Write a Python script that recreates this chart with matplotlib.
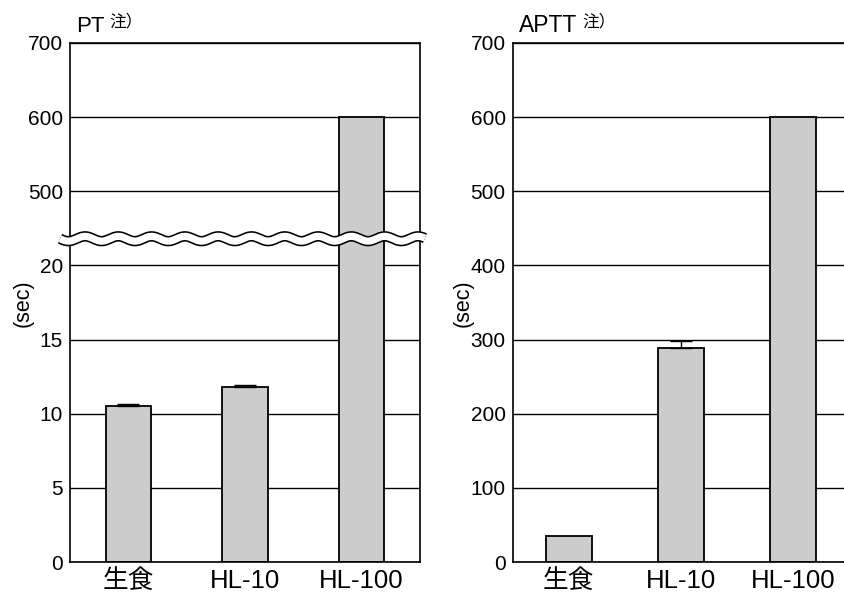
#!/usr/bin/env python
import matplotlib.pyplot as plt
import numpy as np
from matplotlib.lines import Line2D

plt.rcParams['font.family'] = ['Liberation Sans', 'Noto Sans CJK JP', 'DejaVu Sans']

groups = ['生食', 'HL-10', 'HL-100']
pt_values = [10.5, 11.8, 600]
pt_err = [0.18, 0.17, 0]
aptt_values = [35, 288, 600]
aptt_err = [0, 10, 0]

W, H = 845, 593
BAR_COLOR = '#cccccc'


def style_axes(ax):
    ax.set_xlim(-0.5, 2.5)
    ax.set_axisbelow(True)
    ax.yaxis.grid(True, color='black', linewidth=1.0)
    ax.tick_params(axis='both', length=0)
    ax.tick_params(axis='y', labelsize=15, pad=5)
    ax.tick_params(axis='x', labelsize=18.5, pad=5)
    for s in ax.spines.values():
        s.set_linewidth(1.2)


def draw_bars(ax, values, err, width):
    x = np.arange(len(values))
    ax.bar(x, values, width=width, color=BAR_COLOR, edgecolor='black',
           linewidth=1.3, zorder=2)
    e = np.array(err)
    has = e > 0
    ax.errorbar(x[has], np.array(values)[has],
                yerr=[np.zeros(has.sum()), e[has]], fmt='none',
                ecolor='black', elinewidth=1.0, capsize=8, capthick=1.0,
                zorder=3)


def main():
    fig = plt.figure(figsize=(W / 100, H / 100), dpi=100)

    step = (562 - 43) / 7 / H
    bottom = 1 - 562 / H
    brk = 4.36  # break position in tick steps

    # ---- PT (broken axis) ----
    lx, lw = 70 / W, 350 / W
    ax_lo = fig.add_axes([lx, bottom, lw, brk * step])
    ax_hi = fig.add_axes([lx, bottom + brk * step, lw, (7 - brk) * step])
    for ax in (ax_lo, ax_hi):
        draw_bars(ax, pt_values, pt_err, 0.386)
        style_axes(ax)
    ax_lo.set_ylim(0, 5 * brk)
    ax_lo.set_yticks([0, 5, 10, 15, 20])
    ax_lo.spines['top'].set_visible(False)
    ax_lo.set_xticks(range(3), groups)
    ax_hi.set_ylim(500 - 100 * (5 - brk), 700)
    ax_hi.set_yticks([500, 600, 700])
    ax_hi.spines['bottom'].set_visible(False)
    ax_hi.set_xticks([])

    # wavy break mark
    yb = 1 - (bottom + brk * step)
    xs = np.linspace(60, 425, 600)
    ys = yb * H + 2.4 * np.sin(2 * np.pi * (xs - 60) / 33.3)
    for c, lwid in (('black', 7.5), ('white', 5.2)):
        fig.add_artist(Line2D(xs / W, 1 - ys / H, color=c, linewidth=lwid,
                              transform=fig.transFigure, zorder=10,
                              solid_capstyle='butt'))

    # ---- APTT ----
    rx = 512.7 / W
    ax_r = fig.add_axes([rx, bottom, 336.5 / W, 7 * step])
    draw_bars(ax_r, aptt_values, aptt_err, 0.41)
    style_axes(ax_r)
    ax_r.set_ylim(0, 700)
    ax_r.set_yticks(range(0, 701, 100))
    ax_r.set_xticks(range(3), groups)

    # titles and labels
    fig.text(76 / W, 1 - 32.5 / H, 'PT', fontsize=16, va='baseline')
    fig.text(109 / W, 1 - 26 / H, '注）', fontsize=12, va='baseline')
    fig.text(519 / W, 1 - 32.5 / H, 'APTT', fontsize=16.5, va='baseline')
    fig.text(582 / W, 1 - 26 / H, '注）', fontsize=12, va='baseline')
    fig.text(23 / W, 1 - 303 / H, '(sec)', fontsize=15.5, rotation=90,
             ha='center', va='center')
    fig.text(463 / W, 1 - 303 / H, '(sec)', fontsize=15.5, rotation=90,
             ha='center', va='center')

    fig.savefig('out.png', dpi=100)
    return 0


if __name__ == "__main__":
    main()
